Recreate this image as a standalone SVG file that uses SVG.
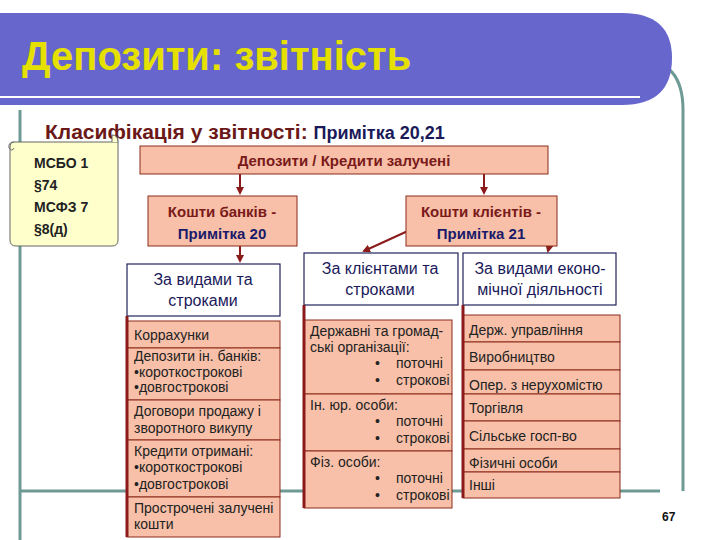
<svg xmlns="http://www.w3.org/2000/svg" width="720" height="540" viewBox="0 0 720 540">
<style>
.s{fill:#F8C0A8;stroke:#8B2A1A;stroke-width:1}
.w{fill:#fff;stroke:#22225A;stroke-width:1.2}
.t{font-family:"Liberation Sans",Arial,sans-serif;font-size:14px;fill:#222}
.h{font-family:"Liberation Sans",Arial,sans-serif;font-size:16px;fill:#1a1a5a;text-anchor:middle}
.r{fill:#7a1a1a;text-anchor:middle;font-family:"Liberation Sans",Arial,sans-serif;font-size:15px;font-weight:bold}
.n{fill:#1a1a6a}
.c{stroke:#8B1A1A;stroke-width:2;fill:none}
.sh{stroke:#8B1A1A;stroke-width:3}
</style>
<defs><marker id="a" markerWidth="8" markerHeight="8" refX="6" refY="4" orient="auto" markerUnits="userSpaceOnUse"><path d="M0,0L8,4L0,8z" fill="#8B1A1A"/></marker></defs>
<rect width="720" height="540" fill="#fff"/>
<path d="M20,110V540M20,491H127M280,491H304M452,491H462M620,491H660" stroke="#6E9A96" stroke-width="3" fill="none"/>
<path d="M640,60 Q683,60 683,110 V491" stroke="#6E9A96" stroke-width="3" fill="none"/>
<path d="M0,13H622Q672,13 672,58Q672,105 622,105H0z" fill="#6666CC"/>
<line x1="0" y1="97" x2="640" y2="97" stroke="#fff" stroke-width="2"/>
<text x="22" y="70" font-family="Liberation Sans,Arial,sans-serif" font-size="40" font-weight="bold" fill="#E6E000">Депозити: звітність</text>
<text x="45" y="139" font-family="Liberation Sans,Arial,sans-serif" font-size="21" font-weight="bold" fill="#6B1818">Класифікація у звітності: <tspan font-size="18" fill="#1a1a5a">Примітка 20,21</tspan></text>
<g id="scroll">
<path d="M14,142H118V240Q118,246 112,246H16Q10,246 10,240V148Q10,142 14,142z" fill="#FFFFCC" stroke="#666" stroke-width="1"/>
<path d="M112,142V135Q118,135 118,142" fill="#FFFFCC" stroke="#666"/>
<path d="M14,142Q8,142 9,148Q12,152 14,148" fill="none" stroke="#666"/>
<text class="t" x="34" y="168" font-weight="bold" font-size="15">МСБО 1</text>
<text class="t" x="34" y="190" font-weight="bold" font-size="15">§74</text>
<text class="t" x="34" y="212" font-weight="bold" font-size="15">МСФЗ 7</text>
<text class="t" x="34" y="234" font-weight="bold" font-size="15">§8(д)</text>
</g>
<g id="conn">
<line class="c" x1="240" y1="174" x2="240" y2="193" marker-end="url(#a)"/>
<line class="c" x1="484" y1="174" x2="484" y2="193" marker-end="url(#a)"/>
<line class="c" x1="240" y1="246" x2="240" y2="261" marker-end="url(#a)"/>
<line class="c" x1="410" y1="230" x2="364" y2="251" marker-end="url(#a)"/>
<line class="c" x1="553" y1="230" x2="548" y2="251" marker-end="url(#a)"/>
</g>
<g id="top"><rect class="s" x="140" y="146" width="408" height="28"/><text class="r" x="344" y="166">Депозити / Кредити залучені</text></g>
<g id="banks"><rect class="s" x="148" y="196" width="149" height="50"/><text class="r" x="222" y="217">Кошти банків -</text><text class="r n" x="222" y="239">Примітка 20</text></g>
<g id="clients"><rect class="s" x="406" y="196" width="151" height="50"/><text class="r" x="481" y="217">Кошти клієнтів -</text><text class="r n" x="481" y="239">Примітка 21</text></g>
<g id="h1"><rect class="w" x="127" y="264" width="153" height="52"/><text class="h" x="203" y="285">За видами та</text><text class="h" x="203" y="306">строками</text></g>
<g id="h2"><rect class="w" x="304" y="253" width="154" height="52"/><text class="h" x="380" y="274">За клієнтами та</text><text class="h" x="380" y="295">строками</text></g>
<g id="h3"><rect class="w" x="463" y="253" width="153" height="52"/><text class="h" x="540" y="274">За видами еконо-</text><text class="h" x="540" y="295">мічної діяльності</text></g>
<g id="list1">
<rect class="s" x="127" y="321" width="153" height="27"/><rect class="s" x="127" y="348" width="153" height="52"/><rect class="s" x="127" y="400" width="153" height="40"/><rect class="s" x="127" y="440" width="153" height="57"/><rect class="s" x="127" y="497" width="153" height="40"/>
<line class="sh" x1="127" y1="316" x2="127" y2="537"/>
<text class="t" x="134" y="340">Коррахунки</text>
<text class="t" x="134" y="361">Депозити ін. банків:</text><text class="t" x="134" y="377">•короткострокові</text><text class="t" x="134" y="392">•довгострокові</text>
<text class="t" x="134" y="416">Договори продажу і</text><text class="t" x="134" y="433">зворотного викупу</text>
<text class="t" x="134" y="456">Кредити отримані:</text><text class="t" x="134" y="472">•короткострокові</text><text class="t" x="134" y="489">•довгострокові</text>
<text class="t" x="134" y="513">Прострочені залучені</text><text class="t" x="134" y="529">кошти</text>
</g>
<g id="list2">
<rect class="s" x="304" y="320" width="148" height="74"/><rect class="s" x="304" y="394" width="148" height="57"/><rect class="s" x="304" y="451" width="148" height="57"/>
<line class="sh" x1="304" y1="305" x2="304" y2="508"/>
<text class="t" x="310" y="336">Державні та громад-</text><text class="t" x="310" y="352">ські організації:</text>
<text class="t" x="375" y="368">•</text><text class="t" x="396" y="368">поточні</text><text class="t" x="375" y="385">•</text><text class="t" x="396" y="385">строкові</text>
<text class="t" x="310" y="410">Ін. юр. особи:</text><text class="t" x="375" y="426">•</text><text class="t" x="396" y="426">поточні</text><text class="t" x="375" y="443">•</text><text class="t" x="396" y="443">строкові</text>
<text class="t" x="310" y="467">Фіз. особи:</text><text class="t" x="375" y="483">•</text><text class="t" x="396" y="483">поточні</text><text class="t" x="375" y="500">•</text><text class="t" x="396" y="500">строкові</text>
</g>
<g id="list3">
<rect class="s" x="463" y="315" width="157" height="27"/><rect class="s" x="463" y="342" width="157" height="28"/><rect class="s" x="463" y="370" width="157" height="24"/><rect class="s" x="463" y="394" width="157" height="27"/><rect class="s" x="463" y="421" width="157" height="28"/><rect class="s" x="463" y="449" width="157" height="23"/><rect class="s" x="463" y="472" width="157" height="26"/>
<line class="sh" x1="463" y1="305" x2="463" y2="498"/>
<text class="t" x="469" y="335">Держ. управління</text>
<text class="t" x="469" y="362">Виробництво</text>
<text class="t" x="469" y="390">Опер. з нерухомістю</text>
<text class="t" x="469" y="413">Торгівля</text>
<text class="t" x="469" y="441">Сільське  госп-во</text>
<text class="t" x="469" y="468">Фізичні  особи</text>
<text class="t" x="469" y="490">Інші</text>
</g>
<text x="662" y="521" font-family="Liberation Sans,Arial,sans-serif" font-size="12" font-weight="bold" fill="#111">67</text>
</svg>
